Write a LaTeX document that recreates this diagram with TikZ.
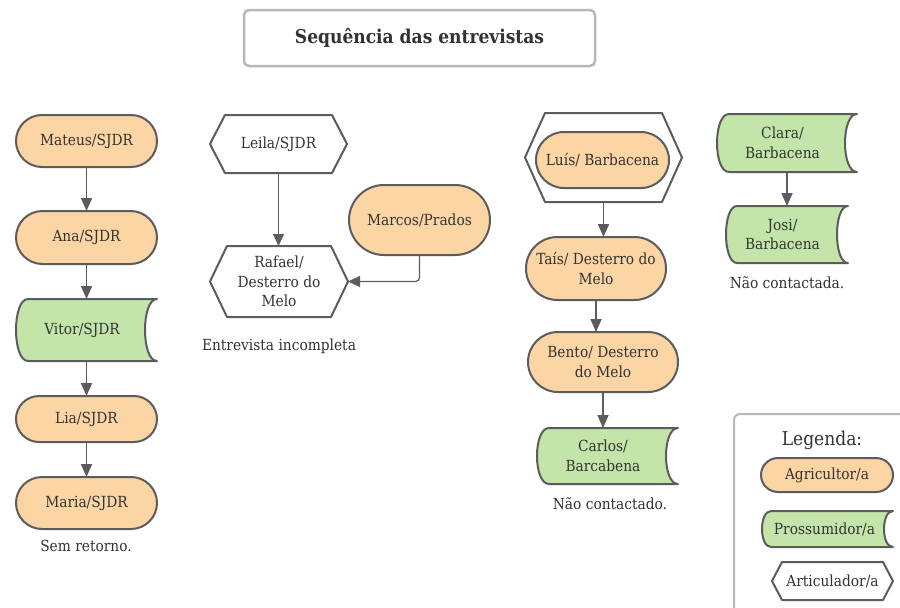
\documentclass[tikz,border=0pt]{standalone}
\usepackage{fontspec}
\setmainfont{DejaVu Serif Condensed}
\usetikzlibrary{arrows.meta,backgrounds,calc}
\definecolor{agri}{HTML}{FCD5A4}
\definecolor{pros}{HTML}{C4E5AA}
\definecolor{edgecol}{HTML}{5C5C5C}
\definecolor{txt}{HTML}{333333}
\definecolor{framecol}{HTML}{B8B8B8}
\newcommand\lsh{\hspace*{-9pt}}
\newcommand\mkpros[2]{%
  \draw[outline, fill=pros] ([xshift=#2pt]#1.north west) -- (#1.north east)
    .. controls ([xshift=-1.333*#2pt]#1.north east) and ([xshift=-1.333*#2pt]#1.south east) .. (#1.south east)
    -- ([xshift=#2pt]#1.south west)
    .. controls ([xshift=#2pt-1.333*#2pt]#1.south west) and ([xshift=#2pt-1.333*#2pt]#1.north west) .. ([xshift=#2pt]#1.north west) -- cycle;}
\newcommand\mkhex[2]{%
  \draw[outline, fill=white] (#1.west) -- ([xshift=#2pt]#1.north west) -- ([xshift=-#2pt]#1.north east)
    -- (#1.east) -- ([xshift=-#2pt]#1.south east) -- ([xshift=#2pt]#1.south west) -- cycle;}
\begin{document}
\begin{tikzpicture}[x=1pt,y=-1pt,
  base/.style={inner sep=0pt, outer sep=0pt, align=center, text=txt, font=\fontsize{15.3}{19.5}\selectfont},
  agrinode/.style={base, draw=edgecol, line width=2pt, fill=agri},
  boxnode/.style={base, rectangle},
  arr/.style={draw=edgecol, line width=1.8pt, -{Triangle[length=13pt,width=11pt]}},
  thinarr/.style={draw=edgecol, line width=1.2pt, -{Triangle[length=12pt,width=11pt]}},
  outline/.style={draw=edgecol, line width=2pt, line join=round},
  lbl/.style={text=txt, font=\fontsize{15.3}{19.5}\selectfont, inner sep=0pt},
]
\clip (0,0) rectangle (900,608);

% title
\node[base, draw=framecol, line width=2.5pt, rounded corners=5pt, minimum width=351pt, minimum height=56pt,
  font=\bfseries\fontsize{19}{22}\selectfont] (title) at (419.5,38) {Sequência das entrevistas};

% left column
\node[agrinode, minimum width=141pt, minimum height=52pt, rounded corners=26pt] (mateus) at (86.5,141) {Mateus/SJDR};
\node[agrinode, minimum width=141pt, minimum height=53pt, rounded corners=26.5pt] (ana) at (86.5,237.5) {Ana/SJDR};
\node[boxnode, minimum width=141pt, minimum height=62pt] (vitor) at (86.5,330) {\lsh Vitor/SJDR};
\node[agrinode, minimum width=141pt, minimum height=46pt, rounded corners=23pt] (lia) at (86.5,419) {Lia/SJDR};
\node[agrinode, minimum width=141pt, minimum height=52pt, rounded corners=26pt] (maria) at (86.5,503) {Maria/SJDR};
\node[lbl] (semret) at (86,546) {Sem retorno.};

% middle
\node[boxnode, minimum width=137pt, minimum height=58pt] (leila) at (278.5,144) {Leila/SJDR};
\node[boxnode, minimum width=138pt, minimum height=71pt] (rafael) at (279,281.5) {Rafael/\\Desterro do\\Melo};
\node[agrinode, minimum width=141pt, minimum height=70pt, rounded corners=35pt] (marcos) at (419.5,220) {Marcos/Prados};
\node[lbl] (incomp) at (279,346) {Entrevista incompleta};

% right column
\node[boxnode, minimum width=157pt, minimum height=89pt] (luishex) at (603.5,157.5) {};
\node[agrinode, minimum width=133pt, minimum height=56pt, rounded corners=28pt] (luis) at (602.5,160) {Luís/ Barbacena};
\node[agrinode, minimum width=140pt, minimum height=63pt, rounded corners=31.5pt] (tais) at (596,268.5) {Taís/ Desterro do\\Melo};
\node[agrinode, minimum width=150pt, minimum height=60pt, rounded corners=30pt] (bento) at (603,362) {Bento/ Desterro\\do Melo};
\node[boxnode, minimum width=141pt, minimum height=56pt] (carlos) at (607.5,456) {\lsh Carlos/\\\lsh Barcabena};
\node[lbl] (naoct) at (610,504) {Não contactado.};

% far right
\node[boxnode, minimum width=140pt, minimum height=58pt] (clara) at (787,143) {\lsh Clara/\\\lsh Barbacena};
\node[boxnode, minimum width=122pt, minimum height=57pt] (josi) at (787,234.5) {\lsh Josi/\\\lsh Barbacena};
\node[lbl] (naocta) at (787,283) {Não contactada.};

% legend
\node[lbl, font=\fontsize{19}{21}\selectfont] (legtitle) at (822,440) {Legenda:};
\node[agrinode, minimum width=132pt, minimum height=34pt, rounded corners=17pt] (legagri) at (827,475) {Agricultor/a};
\node[boxnode, minimum width=131pt, minimum height=36pt] (legpros) at (827.5,529) {\hspace*{-6pt}Prossumidor/a};
\node[boxnode, minimum width=121pt, minimum height=38pt] (legart) at (832.5,581) {Articulador/a};

\begin{scope}[on background layer]
  \fill[white] (0,0) rectangle (900,608);
  \draw[draw=framecol, line width=2pt, rounded corners=6pt] (734,414) rectangle (920,630);
  \mkpros{vitor}{12}
  \mkhex{leila}{15}
  \mkhex{rafael}{17}
  \mkhex{luishex}{20}
  \mkpros{carlos}{12}
  \mkpros{clara}{12}
  \mkpros{josi}{11}
  \mkpros{legpros}{9}
  \mkhex{legart}{10}
\end{scope}

% connectors
\draw[arr] (mateus) -- (ana);
\draw[arr] (ana) -- (vitor);
\draw[arr] (vitor) -- (lia);
\draw[arr] (lia) -- (maria);
\draw[thinarr] (leila.south) -- (leila.south |- rafael.north);
\draw[thinarr, rounded corners=4pt] (marcos.south) |- (rafael.east);
\draw[arr] (luishex.south) -- (luishex.south |- tais.north);
\draw[arr] (tais.south) -- (tais.south |- bento.north);
\draw[arr] (bento.south) -- (bento.south |- carlos.north);
\draw[arr] (clara) -- (josi);
\end{tikzpicture}
\end{document}
